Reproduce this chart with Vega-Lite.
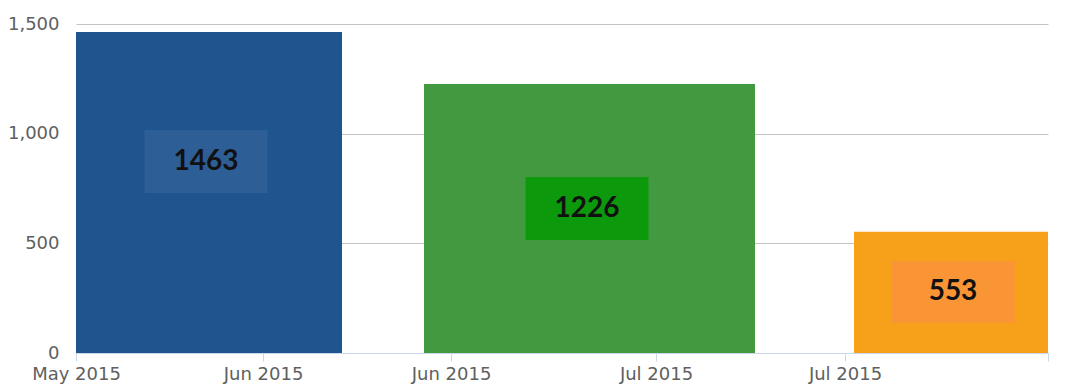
{
  "$schema": "https://vega.github.io/schema/vega-lite/v6.json",
  "width": 972,
  "height": 329,
  "autosize": {"type": "none"},
  "padding": {"left": 76, "top": 24, "right": 20, "bottom": 35},
  "background": "white",
  "config": {"view": {"stroke": null}},
  "data": {
    "values": [
      {"start": 0, "end": 266, "mid": 130, "value": 1463, "boxLo": 730, "boxHi": 1017, "series": "A"},
      {"start": 348, "end": 679, "mid": 511, "value": 1226, "boxLo": 515, "boxHi": 803, "series": "B"},
      {"start": 778, "end": 972, "mid": 877, "value": 553, "boxLo": 137, "boxHi": 420, "series": "C"}
    ]
  },
  "layer": [
    {
      "mark": {"type": "bar"},
      "encoding": {
        "x": {
          "field": "start", "type": "quantitative",
          "scale": {"domain": [0, 972], "nice": false, "zero": false, "padding": 0},
          "axis": {
            "title": null,
            "values": [0, 187, 375, 580, 769, 972],
            "labelExpr": "datum.value == 0 ? 'May 2015' : datum.value == 187 ? 'Jun 2015' : datum.value == 375 ? 'Jun 2015' : datum.value == 580 ? 'Jul 2015' : datum.value == 769 ? 'Jul 2015' : ''",
            "grid": false,
            "domainColor": "#ccd6eb",
            "tickColor": "#ccd6eb",
            "tickSize": 8,
            "labelFont": "DejaVu Sans",
            "labelFontSize": 18,
            "labelColor": "#606060",
            "labelPadding": 4,
            "labelFlush": false,
            "labelOverlap": false
          }
        },
        "x2": {"field": "end"},
        "y": {
          "field": "value", "type": "quantitative",
          "scale": {"domain": [0, 1500], "nice": false},
          "axis": {
            "title": null,
            "values": [0, 500, 1000, 1500],
            "domain": false,
            "ticks": false,
            "gridColor": "#c4c4c4",
            "gridWidth": 1.2,
            "labelFont": "DejaVu Sans",
            "labelFontSize": 18,
            "labelColor": "#606060",
            "labelPadding": 17,
            "labelBaseline": "middle"
          }
        },
        "y2": {"datum": 0},
        "color": {
          "field": "series", "type": "nominal",
          "scale": {"domain": ["A", "B", "C"], "range": ["#1f558e", "#43993f", "#f7a11a"]},
          "legend": null
        }
      }
    },
    {
      "mark": {"type": "bar", "width": 123},
      "encoding": {
        "x": {"field": "mid", "type": "quantitative"},
        "y": {"field": "boxLo", "type": "quantitative"},
        "y2": {"field": "boxHi"},
        "color": {
          "field": "series", "type": "nominal",
          "scale": {"domain": ["A", "B", "C"], "range": ["#2d5f96", "#0c9a0c", "#f99535"]},
          "legend": null
        }
      }
    },
    {
      "mark": {"type": "text", "font": "Lato", "fontWeight": "bold", "fontSize": 28, "color": "#111111", "baseline": "middle", "align": "center", "dy": -31},
      "encoding": {
        "x": {"field": "mid", "type": "quantitative"},
        "y": {"field": "boxLo", "type": "quantitative"},
        "text": {"field": "value", "type": "quantitative", "format": "d"}
      }
    }
  ],
  "resolve": {"scale": {"color": "independent"}}
}
